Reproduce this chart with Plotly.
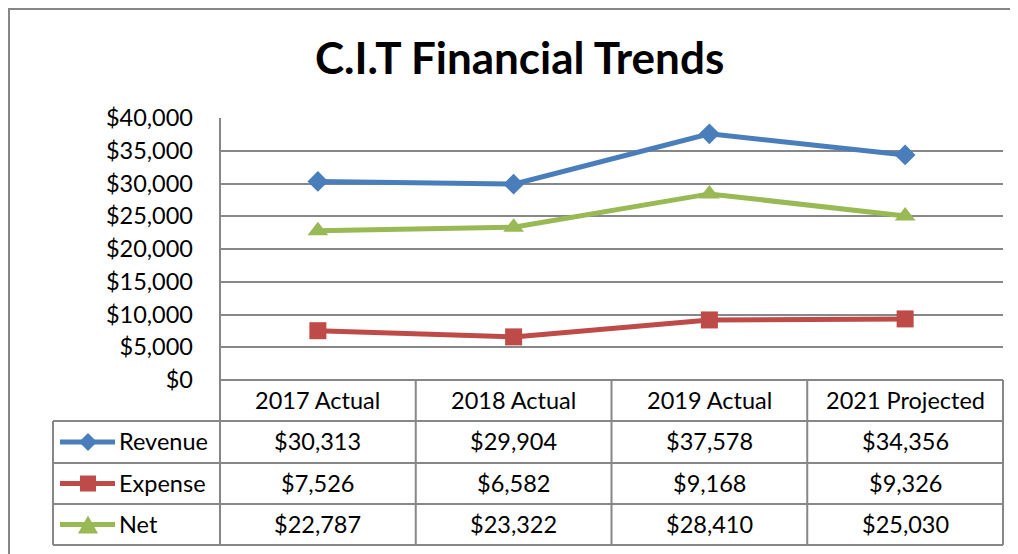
import plotly.graph_objects as go

W, H = 1018, 554
categories = ["2017 Actual", "2018 Actual", "2019 Actual", "2021 Projected"]
revenue = [30313, 29904, 37578, 34356]
expense = [7526, 6582, 9168, 9326]
net = [22787, 23322, 28410, 25030]
series_names = ["Revenue", "Expense", "Net"]
series_values = [revenue, expense, net]
colors = ["#4A7EBB", "#BE4B48", "#98B954"]
symbols = ["diamond", "square", "triangle-up"]
marker_sizes = [16, 17, 18]
y_ticks = [0, 5000, 10000, 15000, 20000, 25000, 30000, 35000, 40000]
y_tick_text = ["${:,}".format(v) for v in y_ticks]

FONT = "Lato, Carlito, Calibri, sans-serif"
GRID = "#878787"
OFF = 8  # page body margin in the browser

def px(x):
    return (x - OFF) / W

def py(y):
    return 1 - (y - OFF) / H

# layout geometry (screen pixels)
PL, PR, PT, PB = 220, 1003, 118, 380
LEG_L = 53
row_lines = [421, 463, 504, 545]
col_w = (PR - PL) / 4

fig = go.Figure()
for name, vals, c, s, ms in zip(series_names, series_values, colors, symbols, marker_sizes):
    fig.add_trace(go.Scatter(
        x=categories, y=vals, name=name, mode="lines+markers",
        line=dict(color=c, width=5),
        marker=dict(symbol=s, size=ms, color=c, line=dict(width=0)),
        showlegend=False, cliponaxis=False))

shapes = []
# outer border
shapes.append(dict(type="rect", xref="paper", yref="paper",
                   x0=px(9), x1=px(1040), y0=py(9), y1=py(580),
                   line=dict(color="#868686", width=2)))
# table horizontal lines
shapes.append(dict(type="line", xref="paper", yref="paper", x0=px(PL), x1=px(PR),
                   y0=py(PB), y1=py(PB), line=dict(color=GRID, width=2)))
for yl in row_lines:
    shapes.append(dict(type="line", xref="paper", yref="paper", x0=px(LEG_L), x1=px(PR),
                       y0=py(yl), y1=py(yl), line=dict(color=GRID, width=2)))
# vertical lines
shapes.append(dict(type="line", xref="paper", yref="paper", x0=px(LEG_L), x1=px(LEG_L),
                   y0=py(row_lines[0]), y1=py(row_lines[-1]), line=dict(color=GRID, width=2)))
shapes.append(dict(type="line", xref="paper", yref="paper", x0=px(PL), x1=px(PL),
                   y0=py(PT), y1=py(row_lines[-1]), line=dict(color=GRID, width=2)))
for i in range(1, 5):
    xv = PL + col_w * i
    shapes.append(dict(type="line", xref="paper", yref="paper", x0=px(xv), x1=px(xv),
                       y0=py(PB), y1=py(row_lines[-1]), line=dict(color=GRID, width=2)))

TXT = dict(family=FONT, size=23.5, color="#000")
annotations = []
annotations.append(dict(text="<b>C.I.T Financial Trends</b>", xref="paper", yref="paper",
                        x=px(520), y=py(57), xanchor="center", yanchor="middle", showarrow=False,
                        font=dict(family=FONT, size=44, color="#000000")))
# header row
hdr_c = (PB + row_lines[0]) / 2
for i, cat in enumerate(categories):
    annotations.append(dict(text=cat, xref="x", yref="paper", x=cat, y=py(hdr_c - 1),
                            xanchor="center", yanchor="middle", showarrow=False, font=TXT))
# data rows
for r, (name, vals, c, s) in enumerate(zip(series_names, series_values, colors, symbols)):
    yc = (row_lines[r] + row_lines[r + 1]) / 2
    for cat, v in zip(categories, vals):
        annotations.append(dict(text="${:,}".format(v), xref="x", yref="paper", x=cat, y=py(yc - 1),
                                xanchor="center", yanchor="middle", showarrow=False, font=TXT))
    annotations.append(dict(text=name, xref="paper", yref="paper", x=px(117), y=py(yc - 1),
                            xanchor="left", yanchor="middle", showarrow=False, font=TXT))
    # legend key line
    shapes.append(dict(type="line", xref="paper", yref="paper", x0=px(60), x1=px(115),
                       y0=py(yc), y1=py(yc), line=dict(color=c, width=5)))
    mx = 88
    if s == "diamond":
        path = f"M {px(mx-9)},{py(yc)} L {px(mx)},{py(yc-9)} L {px(mx+9)},{py(yc)} L {px(mx)},{py(yc+9)} Z"
    elif s == "square":
        path = f"M {px(mx-8)},{py(yc-8)} L {px(mx+8)},{py(yc-8)} L {px(mx+8)},{py(yc+8)} L {px(mx-8)},{py(yc+8)} Z"
    else:
        path = f"M {px(mx-10)},{py(yc+9)} L {px(mx+10)},{py(yc+9)} L {px(mx)},{py(yc-9)} Z"
    shapes.append(dict(type="path", xref="paper", yref="paper", path=path,
                       fillcolor=c, line=dict(color=c, width=0)))

fig.update_layout(
    template="none",
    width=W, height=H, margin=dict(l=0, r=0, t=0, b=0, pad=0, autoexpand=False),
    paper_bgcolor="white", plot_bgcolor="white", showlegend=False,
    xaxis=dict(domain=[px(PL), px(PR)], type="category", range=[-0.5, 3.5], automargin=False,
               showticklabels=False, showgrid=False, zeroline=False, showline=False, ticks=""),
    yaxis=dict(domain=[py(PB), py(PT)], range=[0, 40000], tickmode="array",
               tickvals=y_ticks, ticktext=y_tick_text, automargin=False,
               showgrid=True, gridcolor=GRID, gridwidth=1.5,
               zeroline=False, showline=False, ticks="", ticklabelstandoff=26,
               tickfont=TXT),
    shapes=shapes, annotations=annotations,
)
fig.write_html("out.html")
